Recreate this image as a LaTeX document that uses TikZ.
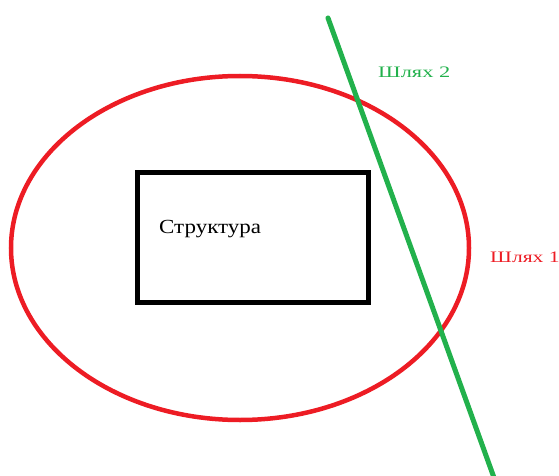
\documentclass[tikz,border=0pt]{standalone}
\usepackage{fontspec}
\setmainfont{Liberation Serif}
\definecolor{paintred}{RGB}{237,28,36}
\definecolor{paintgreen}{RGB}{34,177,76}
\begin{document}
\begin{tikzpicture}[x=1pt,y=-1pt,
  label/.style={anchor=west,inner sep=0pt,font=\fontsize{16}{19}\selectfont}]
\useasboundingbox (0,0) rectangle (559,476);
\clip (0,0) rectangle (559,476);
% outer path (ellipse)
\draw[paintred,line width=4.5pt] (240,248) ellipse [x radius=229, y radius=172];
% structure box
\node[draw=black,line width=5pt,minimum width=231pt,minimum height=130pt,inner sep=0pt]
  (box) at (252.5,237) {};
\node[anchor=west,inner sep=0pt,font=\fontsize{20}{24}\selectfont] (title) at (159,229)
  {\scalebox{1.15}[1]{Структура}};
% second path (line)
\coordinate (p2a) at (328,18);
\coordinate (p2b) at (497,486);
\draw[paintgreen,line width=5pt,line cap=round] (p2a) -- (p2b);
% labels
\node[label,text=paintgreen] (l2) at (378,72) {\scalebox{1.4}[1]{Шлях 2}};
\node[label,text=paintred] (l1) at (490,257) {\scalebox{1.35}[1]{Шлях 1}};
\end{tikzpicture}
\end{document}
